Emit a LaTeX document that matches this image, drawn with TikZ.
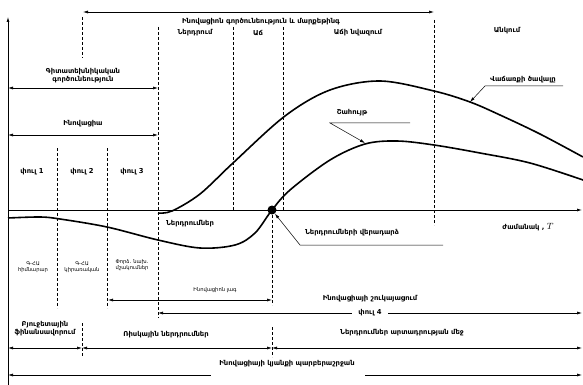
\documentclass[tikz,border=0pt]{standalone}
\usepackage{fontspec}
\newfontfamily\armfont{DejaVu Sans}
\usetikzlibrary{arrows.meta}
\tikzset{
  lbl/.style={font=\armfont\bfseries\fontsize{6.8}{8}\selectfont, align=center, inner sep=1pt},
  sml/.style={font=\armfont\fontsize{5.2}{6.2}\selectfont, align=center, inner sep=1pt},
  guide/.style={dash pattern=on 3pt off 2pt, line width=0.5pt},
  span/.style={{Latex[length=5pt,width=3pt]}-{Latex[length=5pt,width=3pt]}, line width=0.6pt},
  lead/.style={-{Latex[length=5pt,width=3pt]}, line width=0.5pt},
  curve/.style={line width=1.6pt, smooth, tension=0.55}
}

\begin{document}
\begin{tikzpicture}[x=1pt,y=-1pt]
  \useasboundingbox (0,0) rectangle (583,385);
  % axes
  \coordinate (O) at (8,210);
  \coordinate (axtop) at (8,17);
  \coordinate (axbot) at (8,385);
  \coordinate (axend) at (582,210);
  \draw[lead, line width=0.7pt] (axbot) -- (axtop);
  \draw[lead, line width=0.7pt] (O) -- (axend);
  % dashed guides
  \foreach \gx/\ga/\gb in {82/17/58, 158/27/318, 233/27/210, 434/20/225,
      57/148/308, 107/148/308, 272/210/305, 82/323/357, 272/327/357}
    \draw[guide] (\gx,\ga) -- (\gx,\gb);
  \draw[guide, line width=1pt] (283,27) -- (283,210);
  % stages
  \coordinate (mk1) at (83,12);
  \coordinate (mk2) at (434,12);
  \draw[span] (mk1) -- (mk2);
  \node[lbl] (mark) at (261,22) {Ինովացիոն գործունեություն և մարքեթինգ};
  \node[lbl] (intro) at (195,33) {Ներդրում};
  \node[lbl] (grow) at (258,33) {Աճ};
  \node[lbl] (slow) at (358,33) {Աճի նվազում};
  \node[lbl] (fall) at (507,31) {Անկում};
  % left spans
  \coordinate (sc1) at (8,88);
  \coordinate (sc2) at (158,88);
  \draw[span] (sc1) -- (sc2);
  \node[lbl] (sci) at (83,76) {Գիտատեխնիկական\\գործունեություն};
  \coordinate (in1) at (8,135);
  \coordinate (in2) at (158,135);
  \draw[span] (in1) -- (in2);
  \node[lbl] (inno) at (83,124) {Ինովացիա};
  \node[lbl] (ph1) at (32,172) {փուլ 1};
  \node[lbl] (ph2) at (82,172) {փուլ 2};
  \node[lbl] (ph3) at (132,172) {փուլ 3};
  \node[sml] (rd1) at (33,267) {Գ-ՀԱ\\հիմնարար};
  \node[sml] (rd2) at (82,267) {Գ-ՀԱ\\կիրառական};
  \node[sml] (rd3) at (132,265) {Փորձ. նախ.\\մշակումներ};
  % curves
  \draw[curve] plot coordinates {(158,213) (172,211) (200,194) (233,163)
      (285,116) (330,90) (380,81) (434,91) (470,102) (500,115) (540,134) (583,157)};
  \draw[curve] plot coordinates {(8,218) (40,217) (60,219) (107,227) (158,240)
      (200,248) (235,245) (255,233) (272,210) (290,190) (330,160) (365,144)
      (397,141) (434,145) (480,153) (530,163) (583,180)};
  \node[circle, fill=black, inner sep=0pt, minimum size=9pt] (ret) at (272,210) {};
  % curve labels
  \node[lbl] (sales) at (523,80) {Վաճառքի ծավալը};
  \coordinate (sl1) at (563,86);
  \coordinate (sl2) at (485,86);
  \coordinate (sl3) at (470,102);
  \draw[lead] (sl1) -- (sl2) -- (sl3);
  \node[lbl] (prof) at (352,113) {Շահույթ};
  \coordinate (pr1) at (410,123);
  \coordinate (pr2) at (330,123);
  \coordinate (pr3) at (365,143);
  \draw[lead] (pr1) -- (pr2) -- (pr3);
  \node[lbl] (inv) at (190,224) {Ներդրումներ};
  \node[lbl] (back) at (352,233) {Ներդրումների վերադարձ};
  \coordinate (bk1) at (443,245);
  \coordinate (bk2) at (300,245);
  \draw[lead] (bk1) -- (bk2) -- (ret);
  \node[lbl] (time) at (528,227) {ժամանակ , \fontsize{9}{10}\selectfont$T$};
  % lower spans
  \coordinate (lg1) at (108,300);
  \coordinate (lg2) at (272,300);
  \draw[span] (lg1) -- (lg2);
  \node[sml] (lag) at (215,290) {Ինովացիոն լագ};
  \node[lbl] (comm) at (370,299) {Ինովացիայի շուկայացում};
  \coordinate (p4a) at (158,313);
  \coordinate (p4b) at (582,313);
  \draw[span] (p4a) -- node[lbl, fill=white, inner xsep=6pt] (ph4) {փուլ 4} (p4b);
  \coordinate (b1) at (8,348);
  \coordinate (b2) at (82,348);
  \coordinate (b3) at (272,348);
  \coordinate (b4) at (582,348);
  \draw[span] (b1) -- (b2);
  \draw[span] (b2) -- (b3);
  \draw[span] (b3) -- (b4);
  \node[lbl] (budg) at (45,329) {Բյուջետային\\ֆինանսավորում};
  \node[lbl] (risk) at (166,335) {Ռիսկային ներդրումներ};
  \node[lbl] (prod) at (402,333) {Ներդրումներ արտադրության մեջ};
  \coordinate (lc1) at (8,375);
  \coordinate (lcA) at (211,375);
  \coordinate (lcB) at (365,375);
  \coordinate (lc2) at (582,375);
  \draw[{Latex[length=5pt,width=3pt]}-, line width=0.6pt] (lc1) -- (lcA);
  \draw[lead, line width=0.6pt] (lcB) -- (lc2);
  \node[lbl] (life) at (287,364) {Ինովացիայի կյանքի պարբերաշրջան};
\end{tikzpicture}
\end{document}
